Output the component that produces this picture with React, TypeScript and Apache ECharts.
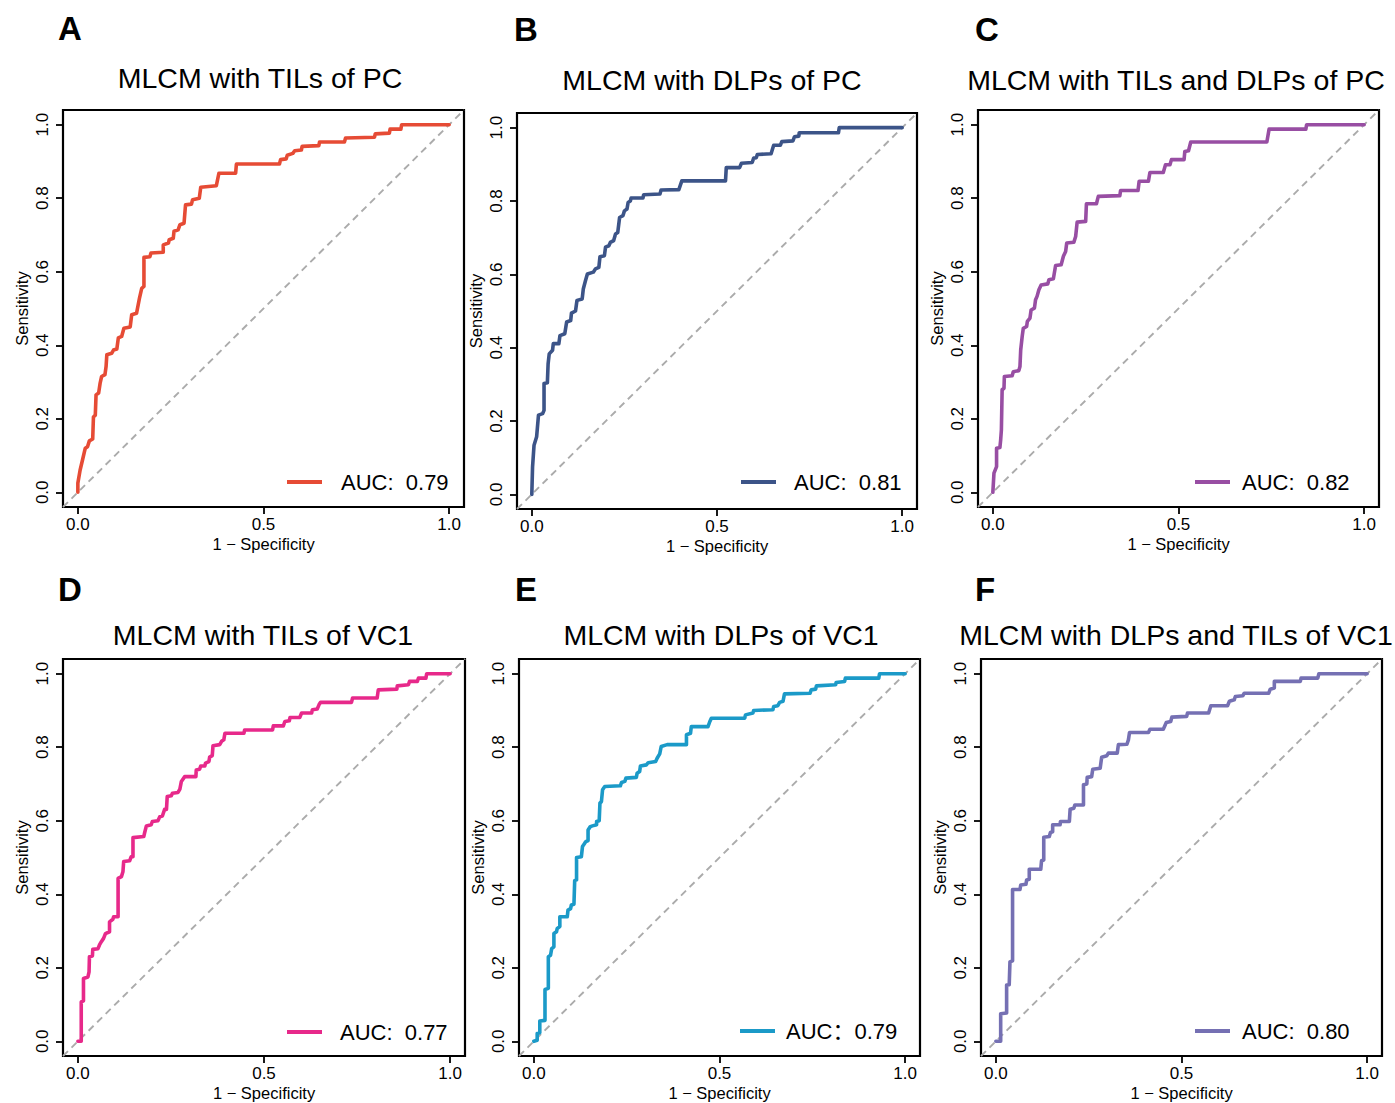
import React, { useEffect, useRef } from 'react';
import * as echarts from 'echarts';

const FONT = '"Liberation Sans", Arial, Helvetica, "Noto Sans CJK SC", sans-serif';

const panelLetters = ['A', 'B', 'C', 'D', 'E', 'F'];
const panelTitles = [
  'MLCM with TILs of PC',
  'MLCM with DLPs of PC',
  'MLCM with TILs and DLPs of PC',
  'MLCM with TILs of VC1',
  'MLCM with DLPs of VC1',
  'MLCM with DLPs and TILs of VC1',
];
const aucLabels = ['AUC:  0.79', 'AUC:  0.81', 'AUC:  0.82', 'AUC:  0.77', 'AUC\uFF1A0.79', 'AUC:  0.80'];
const lineColors = ['#E64B35', '#3C5488', '#984EA3', '#E7298A', '#1B9AC8', '#7570B3'];
const xTicks = [0, 0.5, 1];
const yTicks = [0, 0.2, 0.4, 0.6, 0.8, 1];
const xAxisName = '1 \u2212 Specificity';
const yAxisName = 'Sensitivity';

// [1 - specificity, sensitivity]
const rocA = [[0,0],[0,0.025],[0.006,0.06],[0.013,0.09],[0.02,0.12],[0.026,0.124],[0.031,0.14],[0.04,0.145],[0.042,0.205],[0.047,0.21],[0.049,0.265],[0.056,0.27],[0.06,0.297],[0.064,0.315],[0.073,0.32],[0.076,0.342],[0.078,0.374],[0.091,0.378],[0.096,0.387],[0.105,0.39],[0.109,0.42],[0.118,0.424],[0.124,0.446],[0.141,0.45],[0.145,0.483],[0.158,0.487],[0.166,0.528],[0.172,0.555],[0.178,0.56],[0.178,0.639],[0.194,0.641],[0.197,0.651],[0.23,0.653],[0.23,0.673],[0.244,0.678],[0.246,0.687],[0.257,0.691],[0.259,0.71],[0.27,0.714],[0.275,0.728],[0.286,0.732],[0.29,0.782],[0.306,0.784],[0.309,0.796],[0.327,0.8],[0.331,0.83],[0.373,0.834],[0.38,0.868],[0.425,0.868],[0.427,0.893],[0.543,0.893],[0.546,0.905],[0.561,0.907],[0.564,0.917],[0.579,0.922],[0.584,0.929],[0.602,0.931],[0.604,0.941],[0.649,0.943],[0.651,0.953],[0.718,0.953],[0.721,0.964],[0.799,0.966],[0.801,0.975],[0.839,0.977],[0.841,0.988],[0.87,0.988],[0.872,1],[1,1]];
const rocB = [[0,0],[0.002,0.075],[0.006,0.134],[0.013,0.157],[0.018,0.216],[0.029,0.22],[0.033,0.229],[0.033,0.302],[0.042,0.304],[0.044,0.356],[0.047,0.383],[0.056,0.393],[0.058,0.411],[0.073,0.411],[0.076,0.433],[0.089,0.438],[0.094,0.47],[0.105,0.474],[0.107,0.494],[0.118,0.5],[0.122,0.529],[0.136,0.533],[0.139,0.56],[0.145,0.583],[0.15,0.601],[0.166,0.606],[0.172,0.615],[0.181,0.619],[0.184,0.648],[0.196,0.651],[0.199,0.674],[0.208,0.678],[0.212,0.687],[0.221,0.692],[0.226,0.71],[0.232,0.714],[0.237,0.755],[0.246,0.76],[0.25,0.773],[0.257,0.778],[0.26,0.796],[0.266,0.8],[0.268,0.808],[0.3,0.808],[0.302,0.817],[0.346,0.819],[0.349,0.83],[0.397,0.831],[0.405,0.855],[0.523,0.855],[0.525,0.891],[0.561,0.891],[0.566,0.903],[0.595,0.905],[0.599,0.917],[0.606,0.918],[0.609,0.927],[0.646,0.929],[0.653,0.952],[0.671,0.952],[0.675,0.962],[0.705,0.964],[0.709,0.975],[0.721,0.977],[0.722,0.986],[0.828,0.986],[0.83,1],[1,1]];
const rocC = [[0,0],[0.003,0.052],[0.01,0.07],[0.01,0.12],[0.019,0.122],[0.021,0.142],[0.023,0.17],[0.025,0.279],[0.03,0.283],[0.031,0.315],[0.052,0.317],[0.055,0.328],[0.07,0.331],[0.073,0.342],[0.075,0.387],[0.079,0.424],[0.082,0.446],[0.091,0.451],[0.093,0.465],[0.1,0.474],[0.103,0.496],[0.112,0.501],[0.115,0.524],[0.119,0.533],[0.124,0.551],[0.13,0.564],[0.148,0.567],[0.151,0.578],[0.163,0.581],[0.169,0.617],[0.184,0.619],[0.19,0.642],[0.196,0.655],[0.199,0.678],[0.218,0.68],[0.223,0.696],[0.227,0.735],[0.25,0.737],[0.252,0.785],[0.279,0.785],[0.284,0.805],[0.342,0.807],[0.344,0.821],[0.391,0.821],[0.394,0.846],[0.419,0.846],[0.423,0.87],[0.459,0.87],[0.465,0.891],[0.477,0.891],[0.481,0.905],[0.515,0.905],[0.517,0.927],[0.527,0.929],[0.533,0.953],[0.738,0.953],[0.744,0.988],[0.843,0.988],[0.845,1],[1,1]];
const rocD = [[0,0],[0.009,0],[0.009,0.107],[0.015,0.11],[0.015,0.171],[0.027,0.175],[0.03,0.189],[0.031,0.23],[0.039,0.232],[0.04,0.25],[0.054,0.252],[0.058,0.262],[0.063,0.271],[0.069,0.28],[0.074,0.293],[0.085,0.298],[0.085,0.325],[0.094,0.332],[0.096,0.339],[0.108,0.339],[0.108,0.443],[0.117,0.448],[0.121,0.461],[0.123,0.489],[0.139,0.491],[0.143,0.502],[0.148,0.502],[0.148,0.554],[0.177,0.557],[0.179,0.566],[0.184,0.586],[0.197,0.589],[0.2,0.598],[0.215,0.6],[0.22,0.611],[0.227,0.613],[0.233,0.631],[0.238,0.631],[0.24,0.666],[0.251,0.668],[0.254,0.675],[0.269,0.677],[0.274,0.686],[0.278,0.707],[0.287,0.72],[0.317,0.72],[0.318,0.738],[0.327,0.74],[0.33,0.749],[0.341,0.749],[0.343,0.757],[0.352,0.761],[0.354,0.773],[0.361,0.777],[0.363,0.804],[0.381,0.807],[0.386,0.816],[0.392,0.82],[0.395,0.838],[0.446,0.838],[0.448,0.847],[0.523,0.847],[0.525,0.858],[0.552,0.858],[0.556,0.87],[0.568,0.872],[0.57,0.881],[0.596,0.881],[0.601,0.893],[0.628,0.893],[0.63,0.902],[0.643,0.904],[0.648,0.916],[0.652,0.922],[0.735,0.922],[0.738,0.934],[0.804,0.934],[0.807,0.956],[0.857,0.958],[0.858,0.967],[0.888,0.97],[0.891,0.979],[0.912,0.979],[0.915,0.988],[0.935,0.988],[0.937,1],[1,1]];
const rocE = [[0,0],[0.009,0.003],[0.009,0.021],[0.016,0.023],[0.016,0.055],[0.03,0.057],[0.03,0.141],[0.039,0.144],[0.039,0.23],[0.045,0.234],[0.048,0.252],[0.054,0.257],[0.054,0.293],[0.061,0.298],[0.063,0.307],[0.07,0.312],[0.07,0.339],[0.09,0.339],[0.092,0.357],[0.099,0.361],[0.101,0.371],[0.108,0.373],[0.11,0.437],[0.115,0.439],[0.115,0.5],[0.128,0.502],[0.131,0.53],[0.137,0.539],[0.14,0.543],[0.146,0.546],[0.146,0.575],[0.152,0.584],[0.158,0.586],[0.169,0.589],[0.169,0.598],[0.176,0.6],[0.178,0.648],[0.182,0.652],[0.185,0.684],[0.191,0.693],[0.233,0.695],[0.236,0.704],[0.245,0.707],[0.248,0.716],[0.276,0.718],[0.278,0.729],[0.285,0.734],[0.287,0.749],[0.303,0.752],[0.308,0.758],[0.328,0.761],[0.332,0.77],[0.339,0.782],[0.343,0.802],[0.359,0.807],[0.411,0.807],[0.411,0.834],[0.422,0.838],[0.424,0.856],[0.469,0.856],[0.474,0.87],[0.478,0.879],[0.568,0.879],[0.57,0.888],[0.59,0.893],[0.592,0.9],[0.644,0.902],[0.646,0.911],[0.657,0.913],[0.662,0.922],[0.671,0.925],[0.675,0.945],[0.744,0.947],[0.747,0.956],[0.759,0.958],[0.761,0.967],[0.813,0.97],[0.814,0.976],[0.837,0.979],[0.839,0.988],[0.929,0.988],[0.931,1],[1,1]];
const rocF = [[0,0],[0.013,0],[0.013,0.075],[0.029,0.077],[0.029,0.153],[0.036,0.154],[0.038,0.216],[0.045,0.219],[0.045,0.413],[0.065,0.413],[0.067,0.425],[0.081,0.427],[0.083,0.439],[0.09,0.441],[0.09,0.468],[0.121,0.468],[0.123,0.491],[0.129,0.493],[0.129,0.555],[0.144,0.557],[0.147,0.568],[0.153,0.57],[0.153,0.589],[0.173,0.589],[0.174,0.598],[0.198,0.598],[0.2,0.631],[0.21,0.634],[0.213,0.643],[0.236,0.643],[0.236,0.698],[0.245,0.7],[0.246,0.718],[0.258,0.72],[0.261,0.74],[0.281,0.743],[0.285,0.773],[0.299,0.777],[0.303,0.784],[0.327,0.784],[0.33,0.807],[0.353,0.808],[0.357,0.82],[0.36,0.84],[0.411,0.84],[0.415,0.849],[0.451,0.849],[0.459,0.867],[0.471,0.87],[0.474,0.882],[0.514,0.884],[0.516,0.893],[0.573,0.893],[0.579,0.913],[0.624,0.913],[0.629,0.925],[0.642,0.929],[0.645,0.938],[0.665,0.94],[0.669,0.947],[0.735,0.947],[0.739,0.958],[0.75,0.961],[0.75,0.979],[0.82,0.979],[0.822,0.988],[0.867,0.988],[0.87,1],[1,1]];
const rocCurves = [rocA, rocB, rocC, rocD, rocE, rocF];
const chanceLine = [[-0.04, -0.04], [1.04, 1.04]];

// layout (pixels)
const boxes = [
  { left: 63, top: 110, width: 401, height: 397 },
  { left: 517, top: 113, width: 400, height: 396 },
  { left: 978, top: 110, width: 401, height: 397 },
  { left: 63, top: 659, width: 402, height: 397 },
  { left: 519, top: 659, width: 401, height: 397 },
  { left: 981, top: 659, width: 401, height: 397 },
];
const titlePos = [[260, 78], [712, 80], [1176, 80], [263, 635], [721, 635], [1176, 635]];
const letterPos = [[70, 28], [526, 29], [987, 29], [70, 589], [526, 589], [985, 589]];
const legendPos = [[287, 482, 14], [741, 482, 13], [1195, 482, 7], [287, 1032, 13], [740, 1031, 6], [1195, 1031, 7]];

export default function App() {
  const ref = useRef<HTMLDivElement>(null);
  useEffect(() => {
    if (!ref.current) return;
    const chart = echarts.init(ref.current, undefined, { renderer: 'svg' });
    const grid: any[] = [];
    const xAxis: any[] = [];
    const yAxis: any[] = [];
    const series: any[] = [];
    const legend: any[] = [];
    const graphic: any[] = [];
    for (let i = 0; i < 6; i++) {
      const b = boxes[i];
      grid.push({ ...b, show: true, borderColor: '#000', borderWidth: 2.2, backgroundColor: 'transparent', containLabel: false });
      xAxis.push({
        type: 'value', gridIndex: i, min: -0.04, max: 1.04, position: 'bottom',
        axisLine: { show: false, onZero: false }, splitLine: { show: false },
        axisTick: { show: true, inside: false, length: 7, customValues: xTicks, lineStyle: { color: '#000', width: 1.8 } },
        axisLabel: { customValues: xTicks, formatter: (v: number) => v.toFixed(1), color: '#000', fontSize: 17, fontFamily: FONT, margin: 9 },
        name: xAxisName, nameLocation: 'middle', nameGap: 29,
        nameTextStyle: { color: '#000', fontSize: 16.5, fontFamily: FONT },
      });
      yAxis.push({
        type: 'value', gridIndex: i, min: -0.04, max: 1.04, position: 'left',
        axisLine: { show: false, onZero: false }, splitLine: { show: false },
        axisTick: { show: true, inside: false, length: 7, customValues: yTicks, lineStyle: { color: '#000', width: 1.8 } },
        axisLabel: { customValues: yTicks, formatter: (v: number) => v.toFixed(1), color: '#000', fontSize: 17, fontFamily: FONT, margin: 12, rotate: 90 },
        name: yAxisName, nameLocation: 'middle', nameGap: 33,
        nameTextStyle: { color: '#000', fontSize: 16.5, fontFamily: FONT },
      });
      series.push({
        type: 'line', xAxisIndex: i, yAxisIndex: i, data: chanceLine, showSymbol: false, silent: true,
        lineStyle: { color: '#ABABAB', width: 1.9, type: [7, 5] }, z: 1,
      });
      series.push({
        name: aucLabels[i], type: 'line', xAxisIndex: i, yAxisIndex: i, data: rocCurves[i],
        showSymbol: false, silent: true, color: lineColors[i],
        lineStyle: { color: lineColors[i], width: 3.6, cap: 'round', join: 'round' }, z: 3,
      });
      const lp = legendPos[i];
      legend.push({
        data: [aucLabels[i]], left: lp[0], top: lp[1] - 11, padding: 0,
        icon: 'rect', itemWidth: 35, itemHeight: 4, selectedMode: false,
        textStyle: { color: '#000', fontSize: 22, fontFamily: FONT, padding: [0, 0, 0, lp[2]] },
      });
      graphic.push({
        type: 'text', x: titlePos[i][0], y: titlePos[i][1],
        style: { text: panelTitles[i], font: `28.5px ${FONT}`, fill: '#000', align: 'center', verticalAlign: 'middle', textAlign: 'center', textVerticalAlign: 'middle' },
      });
      graphic.push({
        type: 'text', x: letterPos[i][0], y: letterPos[i][1],
        style: { text: panelLetters[i], font: `bold 33px ${FONT}`, fill: '#000', align: 'center', verticalAlign: 'middle', textAlign: 'center', textVerticalAlign: 'middle' },
      });
    }
    chart.setOption({
      animation: false,
      backgroundColor: '#fff',
      grid, xAxis, yAxis, series, legend, graphic,
    });
    return () => chart.dispose();
  }, []);
  return <div ref={ref} style={{ position: 'absolute', left: 0, top: 0, width: 1395, height: 1103 }} />;
}
